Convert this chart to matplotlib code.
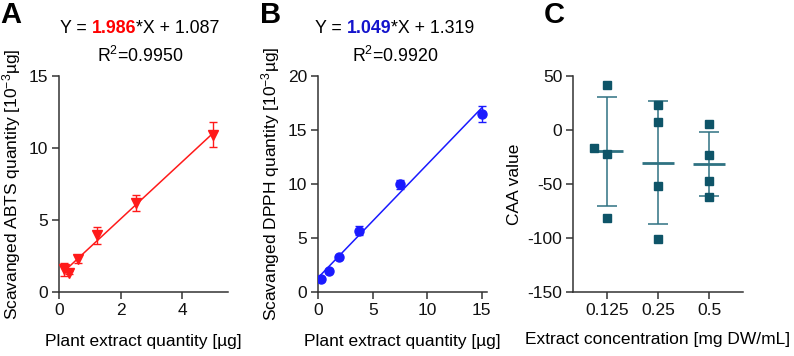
import matplotlib
matplotlib.use("Agg")
import matplotlib.pyplot as plt
import numpy as np

plt.rcParams['font.family'] = ['Liberation Sans', 'DejaVu Sans']
plt.rcParams['mathtext.fontset'] = 'custom'
plt.rcParams['mathtext.rm'] = 'Liberation Sans'
plt.rcParams['mathtext.default'] = 'regular'
plt.rcParams['axes.unicode_minus'] = False
plt.rcParams['font.size'] = 12.5

# panel A - ABTS
abts_x = [0.156, 0.3125, 0.625, 1.25, 2.5, 5.0]
abts_y = [1.55, 1.32, 2.27, 3.93, 6.18, 10.93]
abts_err = [0.48, 0.12, 0.3, 0.6, 0.55, 0.9]
abts_slope, abts_icpt, abts_r2 = 1.986, 1.087, "0.9950"

# panel B - DPPH
dpph_x = [0.234, 0.9375, 1.875, 3.75, 7.5, 15.0]
dpph_y = [1.15, 1.94, 3.18, 5.65, 9.94, 16.5]
dpph_err = [0.15, 0.15, 0.15, 0.4, 0.45, 0.72]
dpph_slope, dpph_icpt, dpph_r2 = 1.049, 1.319, "0.9920"

# panel C - CAA
caa_labels = ["0.125", "0.25", "0.5"]
caa_vals = [[41.7, -16.6, -22.5, -82.0],
            [23.5, 7.7, -51.9, -100.9],
            [5.6, -23.1, -47.2, -62.0]]
caa_jitter = [[0, -0.26, 0, 0], [0, 0, 0, 0], [0, 0, 0, 0]]

axcol = '#333333'
teal_pt = '#0e5468'
teal_ln = '#2f7282'

fig = plt.figure(figsize=(7.94, 3.56), dpi=100)
W, H = 794, 356
def axes_px(l, r, t=76, b=291.7):
    return fig.add_axes([l / W, 1 - b / H, (r - l) / W, (b - t) / H])

axA = axes_px(59, 228.3)
axB = axes_px(318.3, 487.3)
axC = axes_px(573.3, 742.7)

for ax in (axA, axB, axC):
    for s in ('top', 'right'):
        ax.spines[s].set_visible(False)
    for s in ('left', 'bottom'):
        ax.spines[s].set_color(axcol)
        ax.spines[s].set_linewidth(1.1)
    ax.tick_params(colors='#111111', width=1.1, length=5, labelsize=12.5, pad=3)
    ax.tick_params(axis='both', color=axcol)


def fit_panel(ax, x, y, err, slope, icpt, color, marker, xmax, ymax, yticks, xticks, ylab):
    xs = np.array([x[0], x[-1]])
    ax.plot(xs, slope * xs + icpt, color=color, lw=1.1, zorder=2)
    ax.errorbar(x, y, yerr=err, fmt=marker, color=color, ms=6.5, capsize=3,
                elinewidth=1.0, capthick=1.0, zorder=3)
    ax.set_xlim(0, xmax)
    ax.set_ylim(0, ymax)
    ax.set_xticks(xticks)
    ax.set_yticks(yticks)
    ax.set_xlabel("Plant extract quantity [µg]", labelpad=12)
    ax.set_ylabel(ylab, labelpad=4)


fit_panel(axA, abts_x, abts_y, abts_err, abts_slope, abts_icpt, '#ff1a1a', 'v',
          5.5, 15, [0, 5, 10, 15], [0, 2, 4],
          "Scavanged ABTS quantity [10$^{-3}$µg]")
fit_panel(axB, dpph_x, dpph_y, dpph_err, dpph_slope, dpph_icpt, '#1a1aff', 'o',
          15.5, 20, [0, 5, 10, 15, 20], [0, 5, 10, 15],
          "Scavanged DPPH quantity [10$^{-3}$µg]")


def equation(x0, slope, icpt, r2, color):
    y0 = 1 - 33 / H
    t1 = fig.text(x0 / W, y0, "Y = ", fontsize=12.8, va='baseline')
    fig.canvas.draw()
    r = fig.canvas.get_renderer()
    bb1 = t1.get_window_extent(r)
    t2 = fig.text(bb1.x1 / W, y0, "%.3f" % slope, fontsize=12.8, fontweight='bold',
                  color=color, va='baseline')
    bb2 = t2.get_window_extent(r)
    t3 = fig.text(bb2.x1 / W, y0, "*X + %.3f" % icpt, fontsize=12.8, va='baseline')
    bb3 = t3.get_window_extent(r)
    cx = (bb1.x0 + bb3.x1) / 2
    fig.text(cx / W, 1 - 62 / H, "R$^2$=" + r2, fontsize=12.8, ha='center', va='baseline')


equation(60, abts_slope, abts_icpt, abts_r2, '#ff0000')
equation(315, dpph_slope, dpph_icpt, dpph_r2, '#1414cc')

# panel C
for i, vals in enumerate(caa_vals):
    v = np.array(vals)
    m, sd = v.mean(), v.std(ddof=1)
    axC.errorbar([i], [m], yerr=[sd], fmt='none', ecolor=teal_ln, elinewidth=1.1,
                 capsize=7.5, capthick=1.1, zorder=2)
    axC.hlines(m, i - 0.32, i + 0.32, color=teal_ln, lw=2.0, zorder=3)
    axC.plot(np.array(caa_jitter[i]) + i, v, 's', color=teal_pt, ms=5.5, zorder=4)
axC.set_xlim(-0.66, 2.66)
axC.set_ylim(-150, 50)
axC.set_yticks([-150, -100, -50, 0, 50])
axC.set_xticks(range(len(caa_labels)))
axC.set_xticklabels(caa_labels)
axC.set_xlabel("Extract concentration [mg DW/mL]", labelpad=10)
axC.set_ylabel("CAA value", labelpad=4)

for lab, xpx in (("A", 0), ("B", 260), ("C", 544)):
    fig.text(xpx / W, 1 - 23 / H, lab, fontsize=21, fontweight='bold', va='baseline')

fig.savefig("out.png", dpi=100)
